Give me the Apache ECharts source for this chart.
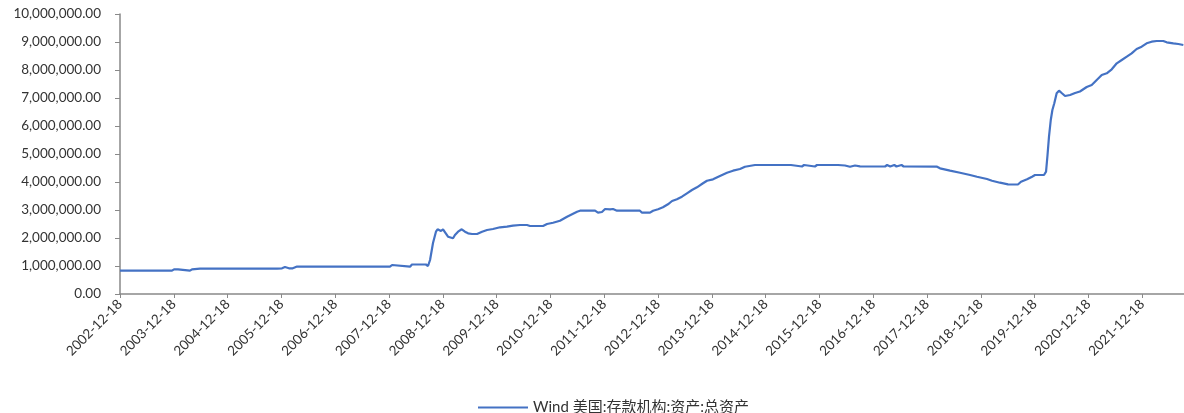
<!DOCTYPE html>
<html>
<head>
<meta charset="utf-8">
<script src="https://cdn.jsdelivr.net/npm/echarts@6/dist/echarts.min.js"></script>
<style>
  html, body { margin: 0; padding: 0; background: #fff; }
  #main { width: 1184px; height: 413px; }
</style>
</head>
<body>
<div id="main"></div>
<script>
// 美国:存款机构:资产:总资产
var dates = [
  '2002-12-18','2003-12-06','2003-12-20','2004-01-16','2004-01-29','2004-04-06','2004-04-20','2004-06-13',
  '2005-11-18','2005-12-01','2005-12-22','2006-01-11','2006-02-07','2006-03-05','2006-04-03',
  '2007-12-25','2008-01-08','2008-01-21','2008-05-09','2008-05-22','2008-08-25','2008-09-08',
  '2008-09-22','2008-10-12','2008-11-01','2008-11-12','2008-12-05','2008-12-19','2009-01-22',
  '2009-02-04','2009-02-25','2009-03-10','2009-03-31','2009-04-25','2009-05-17','2009-06-07',
  '2009-07-04','2009-08-07','2009-09-10','2009-10-14','2009-11-23','2010-01-10','2010-02-26',
  '2010-04-08','2010-05-26','2010-07-12','2010-08-02','2010-10-29','2010-11-25','2011-01-05',
  '2011-02-21','2011-04-10','2011-06-17','2011-07-07','2011-10-17','2011-11-06','2011-12-03',
  '2011-12-24','2012-01-27','2012-02-16','2012-03-14','2012-08-17','2012-08-31','2012-10-24',
  '2012-11-14','2012-12-18','2013-01-20','2013-02-23','2013-03-23','2013-04-25','2013-05-29',
  '2013-07-02','2013-08-05','2013-09-08','2013-10-19','2013-11-15','2013-12-26','2014-02-11',
  '2014-03-31','2014-05-11','2014-06-27','2014-07-31','2014-10-07','2015-04-29','2015-05-12',
  '2015-06-08','2015-08-22','2015-09-05','2015-11-18','2015-12-02','2016-04-23','2016-05-06',
  '2016-06-09','2016-07-13','2016-08-16','2016-09-19','2017-03-08','2017-03-22','2017-04-12',
  '2017-05-10','2017-05-24','2017-06-28','2017-07-12','2018-02-24','2018-03-16','2018-05-23',
  '2018-07-30','2018-10-06','2018-11-22','2019-01-29','2019-03-04','2019-04-27','2019-06-21',
  '2019-08-27','2019-09-17','2019-10-28','2019-12-01','2019-12-21','2020-02-20','2020-03-05',
  '2020-03-15','2020-03-25','2020-04-06','2020-04-17','2020-04-30','2020-05-16','2020-06-01',
  '2020-06-21','2020-07-12','2020-08-15','2020-09-18','2020-10-21','2020-12-06','2021-01-09',
  '2021-02-12','2021-03-18','2021-04-21','2021-05-25','2021-06-28','2021-08-01','2021-09-04',
  '2021-10-07','2021-11-10','2021-12-14','2022-01-17','2022-02-20','2022-03-26','2022-05-10',
  '2022-06-02','2022-07-17','2022-08-20','2022-09-23'
];
var totalAssets = [
  832000,832000,882000,882000,832000,832000,882000,904000,
  904000,964000,918000,964000,918000,918000,982000,
  975000,1036000,975000,975000,1054000,1054000,1000000,
  1214000,1821000,2225000,2311000,2250000,2311000,2046000,
  1989000,1989000,2107000,2225000,2311000,2225000,2168000,
  2143000,2143000,2225000,2286000,2321000,2382000,2404000,
  2439000,2464000,2464000,2429000,2429000,2500000,2546000,
  2618000,2761000,2939000,2975000,2975000,2904000,2929000,
  3036000,3025000,3036000,2975000,2975000,2904000,2904000,
  2975000,3025000,3096000,3204000,3321000,3382000,3475000,
  3596000,3714000,3811000,3954000,4046000,4096000,4214000,
  4332000,4404000,4464000,4546000,4607000,4607000,4546000,
  4607000,4554000,4607000,4554000,4607000,4607000,4546000,
  4589000,4546000,4589000,4561000,4554000,4607000,4554000,
  4607000,4554000,4607000,4554000,4546000,4489000,4404000,
  4332000,4250000,4189000,4107000,4046000,3975000,3918000,
  3911000,4011000,4096000,4189000,4250000,4250000,4368000,
  4964000,5618000,6214000,6571000,6811000,7168000,7261000,
  7168000,7071000,7107000,7179000,7232000,7393000,7464000,
  7643000,7821000,7882000,8025000,8239000,8357000,8475000,
  8596000,8750000,8832000,8954000,9011000,9036000,9036000,
  8989000,8954000,8929000,8893000
];
var seriesName = 'Wind 美国:存款机构:资产:总资产';
var startDate = '2002-12-18';
var yTicks = [0, 10000000, 1000000]; // min, max, interval

var myChart = echarts.init(document.getElementById('main'));

// x is years since 2002-12-18, so each tick lands on a 12-18
var t0 = Date.parse(startDate);
var dayMs = 86400000;
function toYears(d) {
    return (Date.parse(d) - t0) / (365.25 * dayMs);
}
var lineData = [];
for (var i = 0; i < dates.length; i++) {
    lineData.push([toYears(dates[i]), totalAssets[i]]);
}

function fmtNum(v) {
    return v.toLocaleString('en-US', {minimumFractionDigits: 2, maximumFractionDigits: 2});
}

var axisGray = '#898989';
var textColor = '#333333';
var font = 'Lato, "Noto Sans CJK SC", sans-serif';

var option = {
    animation: false,
    backgroundColor: '#fff',
    grid: { left: 120, right: 0, top: 14, bottom: 119, containLabel: false },
    legend: {
        data: [seriesName],
        left: 473,
        top: 395,
        icon: 'rect',
        itemWidth: 50,
        itemHeight: 2,
        itemGap: 10,
        textStyle: { color: textColor, fontSize: 15, fontFamily: font }
    },
    xAxis: {
        type: 'value',
        min: 0,
        max: 1064 / 53.8,
        interval: 1,
        splitLine: { show: false },
        axisLine: { lineStyle: { color: axisGray, width: 1.5 } },
        axisTick: { show: true, length: 4, lineStyle: { color: axisGray } },
        axisLabel: {
            rotate: 45,
            margin: 8,
            showMaxLabel: false,
            color: textColor,
            fontSize: 13.5,
            fontFamily: font,
            formatter: function (v) {
                if (Math.abs(v - Math.round(v)) > 1e-6) return '';
                return (2002 + Math.round(v)) + '-12-18';
            }
        }
    },
    yAxis: {
        type: 'value',
        min: yTicks[0],
        max: yTicks[1],
        interval: yTicks[2],
        splitLine: { show: false },
        axisLine: { show: true, lineStyle: { color: axisGray, width: 1.5 } },
        axisTick: { show: true, length: 5, lineStyle: { color: axisGray } },
        axisLabel: {
            margin: 19,
            color: textColor,
            fontSize: 13.5,
            fontFamily: font,
            formatter: fmtNum
        }
    },
    series: [{
        name: seriesName,
        type: 'line',
        data: lineData,
        showSymbol: false,
        symbol: 'none',
        lineStyle: { color: '#4472C4', width: 2.2 },
        itemStyle: { color: '#4472C4' }
    }]
};
myChart.setOption(option);
</script>
</body>
</html>
